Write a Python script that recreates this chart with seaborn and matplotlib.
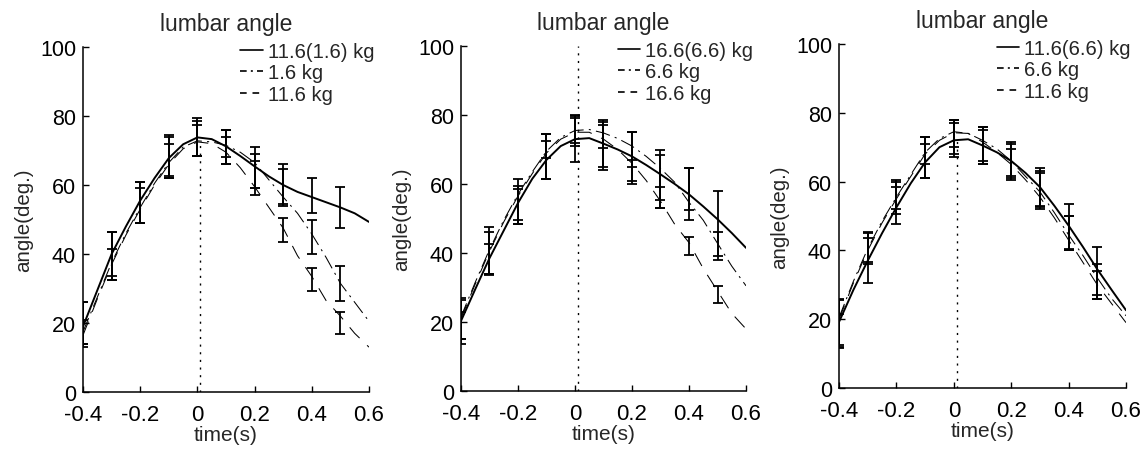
import pandas as pd
import seaborn as sns
import matplotlib.pyplot as plt
from matplotlib.lines import Line2D

# time grid of the smooth curves and of the error-bar samples (s)
t_curve = [-0.4, -0.35, -0.3, -0.25, -0.2, -0.15, -0.1, -0.05, 0.0, 0.05, 0.1,
           0.15, 0.2, 0.25, 0.3, 0.35, 0.4, 0.45, 0.5, 0.55, 0.6]
t_bars = [-0.4, -0.3, -0.2, -0.1, 0.0, 0.1, 0.2, 0.3, 0.4, 0.5]

# ---- panel 1 ----
p1_labels = ["11.6(1.6) kg", "1.6 kg", "11.6 kg"]
p1_solid = [19, 29.5, 40, 48, 55.5, 62, 67.8, 71.8, 73.8, 73.3, 71.2,
            68.4, 65.4, 62.5, 60, 58, 56.5, 55, 53.5, 51.8, 49.3]
p1_dashdot = [17.5, 27.5, 37.5, 46, 53.5, 60.5, 66.5, 71, 72.8, 72.5, 71.5,
              69.5, 66.5, 61.5, 56.5, 51.8, 45.8, 39, 31.5, 26, 20.5]
p1_dashed = [16.5, 27, 37, 45.5, 53, 60, 66, 70.5, 72.5, 72, 69.5,
             65, 59.5, 53.5, 47.5, 39.5, 33.5, 26.5, 22, 17, 13]
p1_mean_solid = [20, 40, 55, 68, 74, 71, 65, 60, 57, 53.5]
p1_sd_solid = [6, 6.5, 6, 6, 5.5, 5, 6, 6, 5, 6]
p1_mean_dashdot = [20, 39.5, 55, 68.5, 73.5, 72, 64, 59.5, 45, 31.5]
p1_sd_dashdot = [6, 7, 6, 6, 5, 4, 5, 5, 5, 5]
p1_mean_dashed = [17, 37, 54, 67, 73, 70, 62, 47, 32.5, 20]
p1_sd_dashed = [4, 4.5, 5, 5, 4.5, 4, 5, 3.5, 3.3, 3.2]

# ---- panel 2 ----
p2_labels = ["16.6(6.6) kg", "6.6 kg", "16.6 kg"]
p2_solid = [20.3, 29.5, 38.5, 46.5, 54.5, 61.5, 67, 71, 73, 73.3, 71.7,
            70, 68, 65.5, 62.8, 60, 57, 53.5, 49.8, 45.8, 41.5]
p2_dashdot = [21.5, 31.5, 41, 49.5, 57, 63.5, 69.5, 73.5, 75.5, 75.8, 74.8,
              73.2, 71, 68, 64.5, 60.5, 54.7, 49.5, 42.8, 36.2, 30.5]
p2_dashed = [21, 31, 40.5, 49, 56.5, 63, 69, 73, 75, 75, 73,
             70, 66, 61, 55, 48.3, 43, 35.5, 29, 22.5, 18]
p2_mean_solid = [20, 38, 54, 67, 73, 71, 68, 61.5, 57, 48.5]
p2_sd_solid = [6.5, 4.5, 5.5, 5.5, 6.6, 7, 7, 8.5, 7.5, 9.5]
p2_mean_dashdot = [19, 40.6, 55, 71, 76, 74.5, 70, 62, 58.5, 42]
p2_sd_dashdot = [4, 6.8, 6.5, 3.6, 4, 4, 5, 6.5, 6, 4]
p2_mean_dashed = [21, 40, 54, 68, 75, 71, 63.5, 56, 42, 28]
p2_sd_dashed = [6, 6, 4.5, 6.5, 4, 6, 3.5, 3, 2.5, 2.5]

# ---- panel 3 ----
p3_labels = ["11.6(6.6) kg", "6.6 kg", "11.6 kg"]
p3_solid = [19.2, 28.5, 37, 45, 52.5, 59.5, 65.6, 70, 72, 72.3, 70.5,
            68.5, 66, 62.5, 58.4, 53, 47.2, 41, 34.5, 28.5, 22.6]
p3_dashdot = [20.5, 31, 40.5, 48.5, 55.5, 62, 68.5, 72.5, 74.5, 74, 72,
              69.5, 66, 61.5, 57, 51, 44.5, 38.5, 32, 26, 21]
p3_dashed = [20, 30.5, 40, 48, 55, 61.5, 68, 72, 74.2, 74, 71.5,
             68.5, 65, 60.5, 55.5, 49.5, 43, 36.5, 30, 24.5, 19]
p3_mean_solid = [19, 37, 53, 66, 72, 70, 66, 58, 47, 34]
p3_sd_solid = [6.5, 6.5, 5.3, 5, 5, 5, 5.5, 6, 6.5, 7]
p3_mean_dashdot = [19, 41, 55.5, 67, 73, 71, 66, 58, 45, 31]
p3_sd_dashdot = [7, 4.3, 5, 6, 5, 5, 5, 5, 5, 5]
p3_mean_dashed = [16.5, 40.5, 56, 69, 74, 70.5, 65.5, 57.5, 45, 30]
p3_sd_dashed = [5, 4.5, 4, 4, 4, 5.5, 4, 5, 5, 4]

onset_t = 0.01
onset_top = [73, 100, 72]

panels = [
    (p1_labels, [p1_solid, p1_dashdot, p1_dashed],
     [(p1_mean_solid, p1_sd_solid), (p1_mean_dashdot, p1_sd_dashdot), (p1_mean_dashed, p1_sd_dashed)]),
    (p2_labels, [p2_solid, p2_dashdot, p2_dashed],
     [(p2_mean_solid, p2_sd_solid), (p2_mean_dashdot, p2_sd_dashdot), (p2_mean_dashed, p2_sd_dashed)]),
    (p3_labels, [p3_solid, p3_dashdot, p3_dashed],
     [(p3_mean_solid, p3_sd_solid), (p3_mean_dashdot, p3_sd_dashdot), (p3_mean_dashed, p3_sd_dashed)]),
]

line_styles = ["-", (0, (14, 5, 2, 5)), (0, (14, 10))]
line_widths = [1.4, 0.75, 0.75]
legend_styles = ["-", (0, (4, 2.5, 1.2, 2.5)), (0, (4, 3.5))]

sns.set_theme(style="ticks")
plt.rcParams["font.family"] = ["Liberation Sans", "DejaVu Sans"]

fig = plt.figure(figsize=(11.47, 4.52), dpi=100)
axes_pos = [
    [0.0724, 0.1305, 0.2493, 0.7633],
    [0.4019, 0.1327, 0.2485, 0.7633],
    [0.7315, 0.1394, 0.2502, 0.7611],
]

for i, (labels, curves, bars) in enumerate(panels):
    ax = fig.add_axes(axes_pos[i])
    for k in range(3):
        df = pd.DataFrame({"time": t_curve, "angle": curves[k]})
        sns.lineplot(data=df, x="time", y="angle", ax=ax, color="black",
                     linewidth=line_widths[k], linestyle=line_styles[k],
                     errorbar=None, legend=False)
        mean, sd = bars[k]
        ax.errorbar(t_bars, mean, yerr=sd, fmt="none", ecolor="black",
                    elinewidth=1.3, capsize=3.6, capthick=1.3)
    ax.vlines(onset_t, 0, onset_top[i], colors="black",
              linestyles=(0, (1.5, 4)), linewidth=1.0)

    ax.set_xlim(-0.4, 0.6)
    ax.set_ylim(0, 100)
    ax.set_xticks([-0.4, -0.2, 0, 0.2, 0.4, 0.6])
    ax.set_xticklabels(["-0.4", "-0.2", "0", "0.2", "0.4", "0.6"])
    ax.set_yticks([0, 20, 40, 60, 80, 100])
    ax.tick_params(direction="in", length=4, width=1, colors="black")
    ax.tick_params(axis="x", pad=8.5, labelsize=16)
    ax.tick_params(axis="y", pad=5, labelsize=15.5)
    for side in ["left", "bottom"]:
        ax.spines[side].set_linewidth(1.1)
        ax.spines[side].set_color("black")
    sns.despine(ax=ax)

    ax.set_title("lumbar angle", fontsize=16.5, pad=12)
    ax.set_xlabel("time(s)", fontsize=15, labelpad=0)
    ax.set_ylabel("angle(deg.)", fontsize=14.8, labelpad=5)

    handles = [Line2D([], [], color="black", lw=1.2, linestyle=legend_styles[k])
               for k in range(3)]
    ax.legend(handles, labels, loc="upper left", bbox_to_anchor=(0.55, 1.015),
              frameon=False, fontsize=14.6, handlelength=1.1,
              handletextpad=0.25, labelspacing=0.12, borderpad=0,
              borderaxespad=0)

fig.savefig("out.png", dpi=100)
